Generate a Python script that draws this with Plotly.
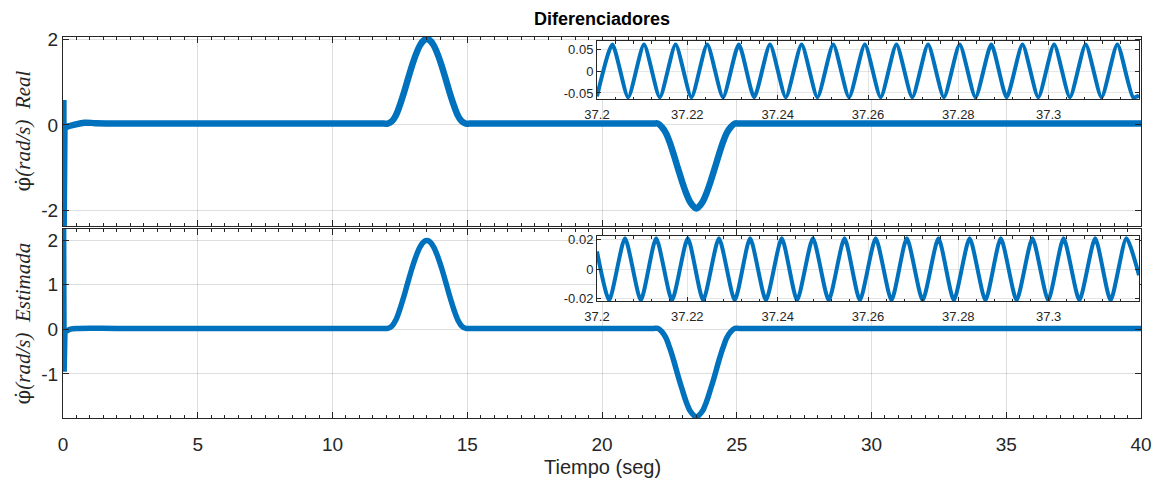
import plotly.graph_objects as go

W, H = 1157, 484

# ---------------- data ----------------
# start-up spike of each signal (t in s, value in rad/s)
t_real_spike = [0.06, 0.07, 0.10]
v_real_spike = [0.58, -2.45, -0.05]
t_est_spike = [0.05, 0.07, 0.10]
v_est_spike = [2.40, -0.95, -0.05]

# main panel, top: "Real" derivative
t_real = [0.10, 0.40, 0.80, 1.20, 2.00, 6.00, 10.0, 11.9,
          12.05, 12.20, 12.35, 12.50, 12.65, 12.80, 12.95, 13.10, 13.25, 13.40, 13.50,
          13.60, 13.75, 13.90, 14.05, 14.20, 14.35, 14.50, 14.65, 14.80, 14.95,
          15.1, 18.0, 21.9,
          22.07, 22.22, 22.37, 22.52, 22.67, 22.82, 22.97, 23.12, 23.27, 23.42, 23.50,
          23.58, 23.73, 23.88, 24.03, 24.18, 24.33, 24.48, 24.63, 24.78, 24.93,
          25.1, 30.0, 35.0, 40.0]
v_real = [-0.05, 0.00, 0.05, 0.04, 0.03, 0.03, 0.03, 0.03,
          0.03, 0.08, 0.22, 0.46, 0.75, 1.07, 1.38, 1.65, 1.86, 1.98, 2.00,
          1.98, 1.86, 1.65, 1.38, 1.07, 0.75, 0.46, 0.22, 0.08, 0.03,
          0.03, 0.03, 0.03,
          0.03, -0.05, -0.19, -0.42, -0.71, -1.02, -1.32, -1.59, -1.80, -1.92, -1.95,
          -1.92, -1.80, -1.59, -1.32, -1.02, -0.71, -0.42, -0.19, -0.05, 0.03,
          0.03, 0.03, 0.03, 0.03]

# main panel, bottom: "Estimada" derivative
t_est = [0.10, 0.25, 0.60, 2.00, 6.00, 10.0, 11.9,
         12.05, 12.20, 12.35, 12.50, 12.65, 12.80, 12.95, 13.10, 13.25, 13.40, 13.50,
         13.60, 13.75, 13.90, 14.05, 14.20, 14.35, 14.50, 14.65, 14.80, 14.95,
         15.1, 18.0, 21.9,
         22.07, 22.22, 22.37, 22.52, 22.67, 22.82, 22.97, 23.12, 23.27, 23.42, 23.50,
         23.58, 23.73, 23.88, 24.03, 24.18, 24.33, 24.48, 24.63, 24.78, 24.93,
         25.1, 30.0, 35.0, 40.0]
v_est = [-0.05, 0.00, 0.02, 0.02, 0.02, 0.02, 0.02,
         0.02, 0.07, 0.21, 0.45, 0.74, 1.06, 1.37, 1.64, 1.85, 1.97, 1.99,
         1.97, 1.85, 1.64, 1.37, 1.06, 0.74, 0.45, 0.21, 0.07, 0.02,
         0.02, 0.02, 0.02,
         0.02, -0.05, -0.19, -0.43, -0.72, -1.04, -1.34, -1.62, -1.83, -1.94, -1.97,
         -1.94, -1.83, -1.62, -1.34, -1.04, -0.72, -0.43, -0.19, -0.05, 0.02,
         0.02, 0.02, 0.02, 0.02]

# inset, top (zoom 37.2 - 37.32 s of the Real signal): peaks and troughs
t_in_real = [37.2000, 37.2034, 37.2069, 37.2104, 37.2139, 37.2174, 37.2209, 37.2244,
             37.2279, 37.2314, 37.2348, 37.2383, 37.2418, 37.2453, 37.2488, 37.2523,
             37.2558, 37.2593, 37.2628, 37.2663, 37.2698, 37.2733, 37.2768, 37.2803,
             37.2838, 37.2873, 37.2907, 37.2942, 37.2977, 37.3012, 37.3047, 37.3082,
             37.3117, 37.3152, 37.3187, 37.3200]
v_in_real = [-0.058, 0.062, -0.060, 0.062, -0.060, 0.062, -0.060, 0.062,
             -0.060, 0.062, -0.060, 0.062, -0.060, 0.062, -0.060, 0.062,
             -0.060, 0.062, -0.060, 0.062, -0.060, 0.062, -0.060, 0.062,
             -0.060, 0.062, -0.060, 0.062, -0.060, 0.062, -0.060, 0.062,
             -0.060, 0.062, -0.060, -0.056]

# inset, bottom (zoom of the Estimada signal)
t_in_est = [37.2000, 37.2027, 37.2062, 37.2097, 37.2131, 37.2166, 37.2201, 37.2235,
            37.2270, 37.2305, 37.2339, 37.2374, 37.2409, 37.2443, 37.2478, 37.2513,
            37.2548, 37.2582, 37.2617, 37.2652, 37.2686, 37.2721, 37.2756, 37.2790,
            37.2825, 37.2860, 37.2894, 37.2929, 37.2964, 37.2999, 37.3033, 37.3068,
            37.3103, 37.3137, 37.3172, 37.3200]
v_in_est = [0.012, -0.021, 0.021, -0.021, 0.021, -0.021, 0.021, -0.021,
            0.021, -0.021, 0.021, -0.021, 0.021, -0.021, 0.021, -0.021,
            0.021, -0.021, 0.021, -0.021, 0.021, -0.021, 0.021, -0.021,
            0.021, -0.021, 0.021, -0.021, 0.021, -0.021, 0.021, -0.021,
            0.021, -0.021, 0.021, -0.004]

x_ticks = [0, 5, 10, 15, 20, 25, 30, 35, 40]
x_labels = ["0", "5", "10", "15", "20", "25", "30", "35", "40"]
y_ticks_real = [-2, 0, 2]
y_labels_real = ["-2", "0", "2"]
y_ticks_est = [-1, 0, 1, 2]
y_labels_est = ["-1", "0", "1", "2"]
inset_x_ticks = [37.2, 37.22, 37.24, 37.26, 37.28, 37.3]
inset_x_labels = ["37.2", "37.22", "37.24", "37.26", "37.28", "37.3"]
inset_y_ticks_real = [-0.05, 0, 0.05]
inset_y_labels_real = ["-0.05", "0", "0.05"]
inset_y_ticks_est = [-0.02, 0, 0.02]
inset_y_labels_est = ["-0.02", "0", "0.02"]

title = "Diferenciadores"
x_title = "Tiempo (seg)"
phi_dot = "φ̇"
y_title_real = "(rad/s)  Real"
y_title_est = "(rad/s)  Estimada"

# ---------------- styling / layout ----------------
BLUE = "#0072BD"
AX = "#262626"
GRID = "rgba(0,0,0,0.13)"
FONT = "Liberation Sans, Arial, sans-serif"
SERIF = "Liberation Serif, serif"

x_range = [0, 40]
y_range_real = [-2.36, 2.05]
y_range_est = [-1.99, 2.25]
in_x_range = [37.2, 37.32]
in_y_range_real = [-0.064, 0.070]
in_y_range_est = [-0.0215, 0.0225]


def px_x(p):
    return p / W


def px_y(p):
    return 1 - p / H


main_xdom = [px_x(63), px_x(1141)]
top_ydom = [px_y(226), px_y(37)]
bot_ydom = [px_y(418), px_y(229)]
in_xdom = [px_x(597), px_x(1139)]
in_top_ydom = [px_y(99), px_y(41)]
in_bot_ydom = [px_y(301), px_y(236)]

fig = go.Figure()
fig.add_trace(go.Scatter(x=t_real_spike, y=v_real_spike, mode="lines", xaxis="x", yaxis="y",
                         line=dict(color=BLUE, width=4), showlegend=False))
fig.add_trace(go.Scatter(x=t_real, y=v_real, mode="lines", xaxis="x", yaxis="y",
                         line=dict(color=BLUE, width=6.5, shape="spline", smoothing=1),
                         showlegend=False))
fig.add_trace(go.Scatter(x=t_est_spike, y=v_est_spike, mode="lines", xaxis="x2", yaxis="y2",
                         line=dict(color=BLUE, width=4), showlegend=False))
fig.add_trace(go.Scatter(x=t_est, y=v_est, mode="lines", xaxis="x2", yaxis="y2",
                         line=dict(color=BLUE, width=5.5, shape="spline", smoothing=1),
                         showlegend=False))
fig.add_trace(go.Scatter(x=t_in_real, y=v_in_real, mode="lines", xaxis="x3", yaxis="y3",
                         line=dict(color=BLUE, width=4, shape="spline", smoothing=0.6),
                         showlegend=False))
fig.add_trace(go.Scatter(x=t_in_est, y=v_in_est, mode="lines", xaxis="x4", yaxis="y4",
                         line=dict(color=BLUE, width=4, shape="spline", smoothing=0.6),
                         showlegend=False))

common_axis = dict(showline=True, linecolor=AX, linewidth=1, mirror="ticks",
                   ticks="inside", tickcolor=AX, zeroline=False, automargin=False,
                   showgrid=True, gridcolor=GRID, gridwidth=1,
                   tickfont=dict(family=FONT, size=19, color=AX))

main_x = dict(common_axis, range=x_range, tickvals=x_ticks, ticktext=x_labels, ticklen=6,
              minor=dict(ticks="inside", dtick=0.5, ticklen=3, tickcolor=AX, showgrid=False))

inset_common = dict(showline=True, linecolor=AX, linewidth=1, mirror="ticks",
                    ticks="inside", tickcolor=AX, zeroline=False, automargin=False,
                    showgrid=True, gridcolor="rgba(0,0,0,0.10)", gridwidth=1, ticklen=4,
                    tickfont=dict(family=FONT, size=13, color=AX))

fig.update_layout(
    template="none",
    width=W, height=H,
    margin=dict(l=0, r=0, t=0, b=0, pad=0, autoexpand=False),
    paper_bgcolor="white", plot_bgcolor="white",
    showlegend=False,
    xaxis=dict(main_x, domain=main_xdom, anchor="y", showticklabels=False),
    yaxis=dict(common_axis, domain=top_ydom, anchor="x", range=y_range_real,
               tickvals=y_ticks_real, ticktext=y_labels_real, ticklen=6),
    xaxis2=dict(main_x, domain=main_xdom, anchor="y2", showticklabels=True,
                ticklabelstandoff=9),
    yaxis2=dict(common_axis, domain=bot_ydom, anchor="x2", range=y_range_est,
                tickvals=y_ticks_est, ticktext=y_labels_est, ticklen=6),
    xaxis3=dict(inset_common, domain=in_xdom, anchor="y3", range=in_x_range,
                tickvals=inset_x_ticks, ticktext=inset_x_labels,
                minor=dict(ticks="inside", dtick=0.004, ticklen=2.5, tickcolor=AX, showgrid=False),
                ticklabelstandoff=3),
    yaxis3=dict(inset_common, domain=in_top_ydom, anchor="x3", range=in_y_range_real,
                tickvals=inset_y_ticks_real, ticktext=inset_y_labels_real),
    xaxis4=dict(inset_common, domain=in_xdom, anchor="y4", range=in_x_range,
                tickvals=inset_x_ticks, ticktext=inset_x_labels,
                minor=dict(ticks="inside", dtick=0.004, ticklen=2.5, tickcolor=AX, showgrid=False),
                ticklabelstandoff=3),
    yaxis4=dict(inset_common, domain=in_bot_ydom, anchor="x4", range=in_y_range_est,
                tickvals=inset_y_ticks_est, ticktext=inset_y_labels_est),
)

# white backgrounds for the insets (drawn in the inset subplots' own layer)
fig.add_shape(type="rect", xref="x3", yref="y3", x0=in_x_range[0], x1=in_x_range[1],
              y0=in_y_range_real[0], y1=in_y_range_real[1], layer="below",
              fillcolor="white", line=dict(width=0))
fig.add_shape(type="rect", xref="x4", yref="y4", x0=in_x_range[0], x1=in_x_range[1],
              y0=in_y_range_est[0], y1=in_y_range_est[1], layer="below",
              fillcolor="white", line=dict(width=0))

fig.add_annotation(text="<b>%s</b>" % title, xref="paper", yref="paper",
                   x=(main_xdom[0] + main_xdom[1]) / 2, y=px_y(19),
                   xanchor="center", yanchor="middle", showarrow=False,
                   font=dict(family=FONT, size=18, color="black"))
fig.add_annotation(text=x_title, xref="paper", yref="paper",
                   x=(main_xdom[0] + main_xdom[1]) / 2, y=px_y(467),
                   xanchor="center", yanchor="middle", showarrow=False,
                   font=dict(family=FONT, size=20, color=AX))
for txt, dom in ((y_title_real, top_ydom), (y_title_est, bot_ydom)):
    fig.add_annotation(
        text='<span style="font-family:DejaVu Serif">%s</span><i>%s</i>' % (phi_dot, txt),
        xref="paper", yref="paper",
        x=px_x(22), y=(dom[0] + dom[1]) / 2, textangle=-90,
        xanchor="center", yanchor="middle", showarrow=False,
        font=dict(family=SERIF, size=21, color=AX))

fig.write_html("out.html")
